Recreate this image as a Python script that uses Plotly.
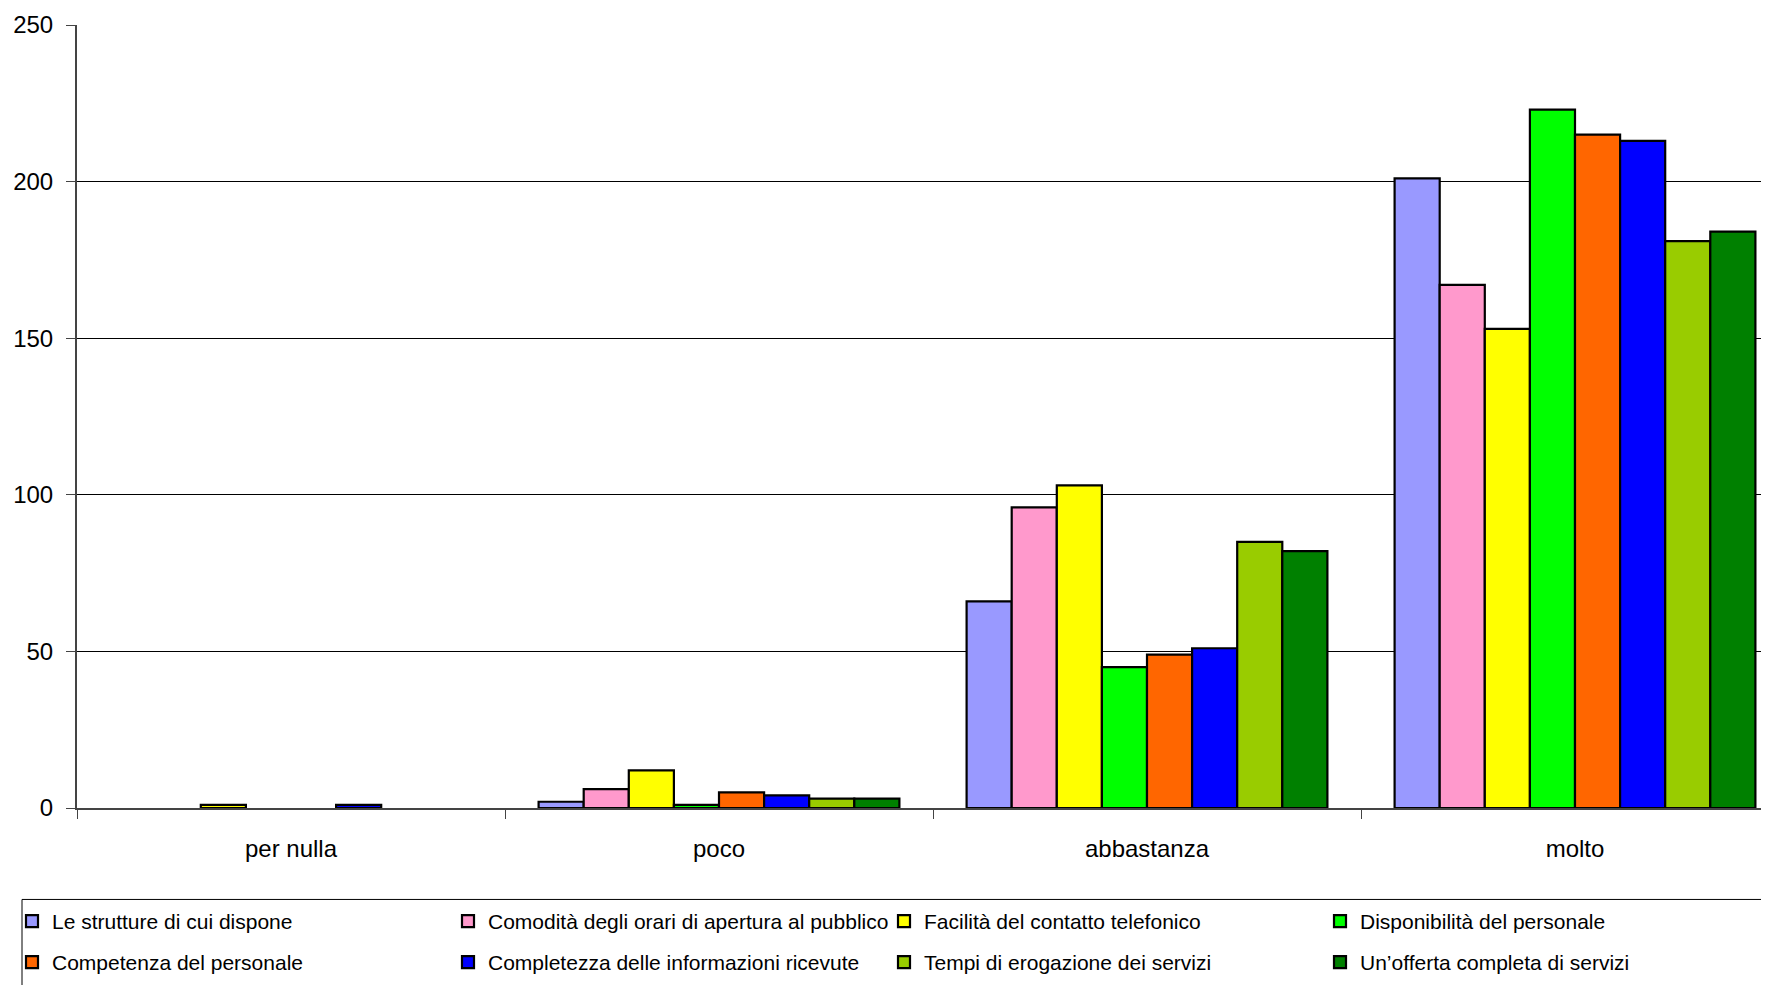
import plotly.graph_objects as go

categories = ["per nulla", "poco", "abbastanza", "molto"]
series_names = [
    "Le strutture di cui dispone",
    "Comodità degli orari di apertura al pubblico",
    "Facilità del contatto telefonico",
    "Disponibilità del personale",
    "Competenza del personale",
    "Completezza delle informazioni ricevute",
    "Tempi di erogazione dei servizi",
    "Un’offerta completa di servizi",
]
strutture = [0, 2, 66, 201]
comodita = [0, 6, 96, 167]
facilita = [1, 12, 103, 153]
disponibilita = [0, 1, 45, 223]
competenza = [0, 5, 49, 215]
completezza = [1, 4, 51, 213]
tempi = [0, 3, 85, 181]
offerta = [0, 3, 82, 184]
series_values = [strutture, comodita, facilita, disponibilita, competenza, completezza, tempi, offerta]
colors = ["#9999FF", "#FF99CC", "#FFFF00", "#00FF00", "#FF6600", "#0000FF", "#99CC00", "#008000"]
y_ticks = [0, 50, 100, 150, 200, 250]

FONT = "Liberation Sans, Arial, sans-serif"

W, H = 1769, 985
ml, mt = 69, 17
plot_bottom = 800.5
mb = H - plot_bottom
pw = W - ml
ph = plot_bottom - mt


def px_x(x):
    return (x - ml) / pw


def px_y(y):
    return (plot_bottom - y) / ph


fig = go.Figure()
for i, (name, vals, col) in enumerate(zip(series_names, series_values, colors)):
    fig.add_trace(go.Bar(
        name=name, x=categories,
        y=[v if v != 0 else None for v in vals],
        marker=dict(color=col, line=dict(color="black", width=2.2)),
        legend="legend" if i < 4 else "legend2",
    ))

cat_w = 428
legend_common = dict(
    orientation="h",
    xref="paper", yref="paper",
    x=px_x(4), xanchor="left", yanchor="middle",
    borderwidth=0, bgcolor="rgba(0,0,0,0)",
    font=dict(family=FONT, size=21, color="black"),
    entrywidth=391, entrywidthmode="pixels",
    traceorder="normal",
    itemclick=False, itemdoubleclick=False,
)

fig.update_layout(
    width=W, height=H,
    margin=dict(l=ml, r=0, t=mt, b=mb, autoexpand=False),
    paper_bgcolor="white", plot_bgcolor="white",
    barmode="group", bargap=0.157, bargroupgap=0,
    font=dict(family=FONT, color="black", size=24),
    showlegend=True,
    legend=dict(legend_common, y=px_y(914)),
    legend2=dict(legend_common, y=px_y(955)),
    xaxis=dict(
        type="category", range=[-0.5, -0.5 + pw / cat_w],
        showline=True, linecolor="#444444", linewidth=2,
        ticks="outside", tickson="boundaries", ticklen=9, tickcolor="#444444",
        tickfont=dict(family=FONT, size=24, color="black"),
        ticklabelstandoff=18,
        showgrid=False,
    ),
    yaxis=dict(
        range=[0, 250], tickvals=y_ticks,
        showline=True, linecolor="#444444", linewidth=2,
        ticks="outside", ticklen=9, tickcolor="#444444",
        showgrid=True, gridcolor="black", gridwidth=1,
        zeroline=False,
        tickfont=dict(family=FONT, size=24, color="black"),
        ticklabelstandoff=8,
    ),
    shapes=[dict(
        type="rect", xref="paper", yref="paper",
        x0=px_x(14), x1=px_x(W + 40), y0=px_y(892), y1=px_y(H + 40),
        line=dict(color="black", width=1), fillcolor="rgba(0,0,0,0)",
        layer="above",
    )],
)

fig.write_html("out.html")
